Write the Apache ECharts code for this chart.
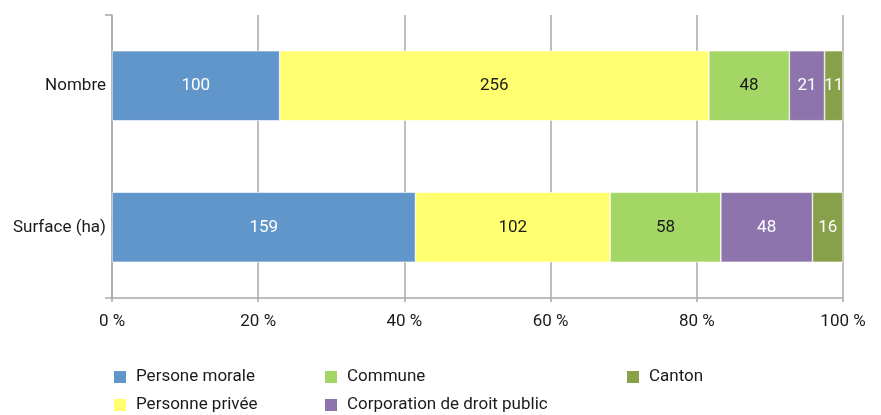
<!DOCTYPE html>
<html>
<head>
<meta charset="utf-8">
<script src="https://cdn.jsdelivr.net/npm/echarts@6/dist/echarts.min.js"></script>
<style>
  html, body { margin: 0; padding: 0; background: #fff; }
  #chart { width: 881px; height: 415px; }
</style>
</head>
<body>
<div id="chart"></div>
<script>
// Categories (top to bottom)
const categories = ['Nombre', 'Surface (ha)'];

// Raw values per owner type, one entry per category
const personeMorale = [100, 159];
const personnePrivee = [256, 102];
const commune = [48, 58];
const corporation = [21, 48];
const canton = [11, 16];

const seriesNames = ['Persone morale', 'Personne privée', 'Commune', 'Corporation de droit public', 'Canton'];
const seriesValues = [personeMorale, personnePrivee, commune, corporation, canton];
const seriesColors = ['#6096C9', '#FFFF6F', '#A3D665', '#8D74AC', '#89A04B'];
const labelColors = ['#ffffff', '#1a1a1a', '#1a1a1a', '#ffffff', '#ffffff'];

const xTicks = [0, 20, 40, 60, 80, 100];

// Totals per category, used to express each segment as a share of 100 %
const totals = categories.map((_, i) => seriesValues.reduce((s, arr) => s + arr[i], 0));

const font = 'Roboto, "Noto Sans", sans-serif';
const fontSize = 17;
const gridColor = '#a8a8a8';

const series = seriesNames.map((name, k) => ({
  name,
  type: 'bar',
  stack: 'all',
  barWidth: 70,
  yAxisIndex: 0,
  itemStyle: { color: seriesColors[k], borderColor: '#ffffff', borderWidth: 0.6 },
  label: {
    show: true,
    position: 'inside',
    color: labelColors[k],
    fontFamily: font,
    fontSize: fontSize,
    formatter: p => String(seriesValues[k][p.dataIndex])
  },
  data: seriesValues[k].map((v, i) => (v / totals[i]) * 100)
}));

// One legend entry per block, laid out in three columns and two rows
const legendSlots = [
  { left: 112, top: 368.5 },
  { left: 112, top: 396.5 },
  { left: 323, top: 368.5 },
  { left: 323, top: 396.5 },
  { left: 625, top: 368.5 }
];
const legends = seriesNames.map((name, k) => ({
  left: legendSlots[k].left,
  top: legendSlots[k].top,
  padding: 0,
  itemWidth: 14,
  itemHeight: 14,
  icon: 'rect',
  data: [name],
  textStyle: {
    color: '#1a1a1a', fontSize: fontSize, fontFamily: font,
    lineHeight: 17, padding: [0, 0, 0, 4]
  }
}));

const chart = echarts.init(document.getElementById('chart'));
chart.setOption({
  animation: false,
  backgroundColor: '#ffffff',
  grid: { left: 112, right: 38, top: 15, bottom: 117, containLabel: false },
  legend: legends,
  xAxis: {
    type: 'value',
    min: xTicks[0],
    max: xTicks[xTicks.length - 1],
    interval: xTicks[1] - xTicks[0],
    axisLine: { show: true, lineStyle: { color: gridColor, width: 1.5 } },
    axisTick: { show: true, length: 4, lineStyle: { color: gridColor, width: 1.5 } },
    splitLine: { show: true, lineStyle: { color: gridColor, width: 1.5 } },
    axisLabel: {
      color: '#1a1a1a', fontSize: fontSize, fontFamily: font, margin: 15,
      formatter: v => v + ' %'
    }
  },
  yAxis: [
    {
      type: 'category',
      inverse: true,
      data: categories,
      axisLine: { show: false },
      axisTick: { show: false },
      axisLabel: { color: '#1a1a1a', fontSize: fontSize, fontFamily: font, margin: 6 }
    },
    {
      // frame axis: vertical line with end ticks only
      type: 'value',
      position: 'left',
      min: 0,
      max: 1,
      interval: 1,
      axisLine: { show: true, onZero: false, lineStyle: { color: gridColor, width: 1.5 } },
      axisTick: { show: true, length: 7, lineStyle: { color: gridColor, width: 1.5 } },
      axisLabel: { show: false },
      splitLine: { show: false }
    }
  ],
  series
});
</script>
</body>
</html>
